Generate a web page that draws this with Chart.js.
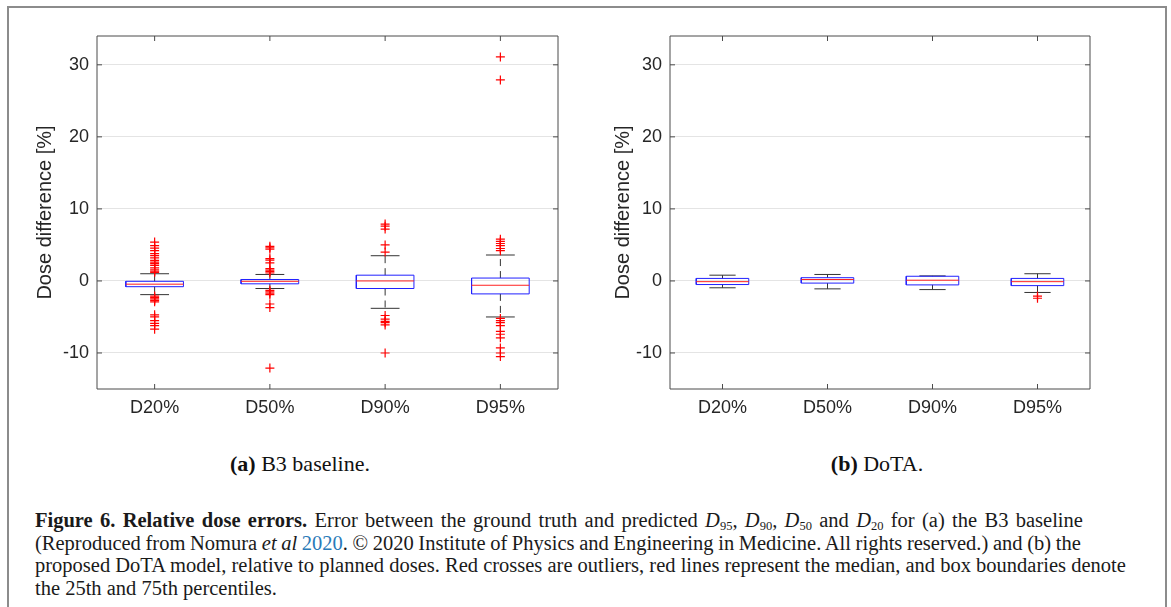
<!DOCTYPE html>
<html>
<head>
<meta charset="utf-8">
<script src="https://cdn.jsdelivr.net/npm/chart.js@4.4.1/dist/chart.umd.min.js"></script>
<style>
  html, body { margin: 0; padding: 0; background: #fff; }
  body { width: 1171px; height: 607px; position: relative; overflow: hidden; }
  #frame { position: absolute; left: 7px; top: 6px; width: 1156px; height: 700px; border: 2px solid #8c8c8c; }
  canvas { position: absolute; top: 0; }
  #leftPlot { left: 0; }
  #rightPlot { left: 585px; }
  .sub { position: absolute; top: 451px; font-family: "Liberation Serif", serif; font-size: 22px; color: #111;
         white-space: nowrap; transform: translateX(-50%); }
  #caption { position: absolute; left: 35px; top: 509px; font-family: "Liberation Serif", serif; font-size: 20.5px;
             line-height: 22.5px; color: #1a1a1a; white-space: nowrap; }
  #caption a { color: #2a7ab8; text-decoration: none; }
  #caption sub { font-size: 12.5px; vertical-align: -3px; line-height: 0; }
  #line1 { word-spacing: 2.2px; }
  #line2 { word-spacing: -0.5px; }
</style>
</head>
<body>
<div id="frame"></div>
<canvas id="leftPlot" width="585" height="440"></canvas>
<canvas id="rightPlot" width="586" height="440"></canvas>
<div class="sub" style="left:300px"><b>(a)</b> B3 baseline.</div>
<div class="sub" style="left:877px"><b>(b)</b> DoTA.</div>
<div id="caption">
<span id="line1"><b>Figure 6. Relative dose errors.</b> Error between the ground truth and predicted <i>D</i><sub>95</sub>, <i>D</i><sub>90</sub>, <i>D</i><sub>50</sub> and <i>D</i><sub>20</sub> for (a) the B3 baseline</span><br>
<span id="line2">(Reproduced from Nomura <i>et al</i> <a>2020</a>. &copy; 2020 Institute of Physics and Engineering in Medicine. All rights reserved.) and (b) the</span><br>
proposed DoTA model, relative to planned doses. Red crosses are outliers, red lines represent the median, and box boundaries denote<br>
the 25th and 75th percentiles.
</div>
<script>
let categories = ['D20%', 'D50%', 'D90%', 'D95%'];
let yTicks = [-10, 0, 10, 20, 30];

// (a) B3 baseline
let baseQ1 = [-0.8, -0.4, -1.05, -1.8];
let baseMedian = [-0.45, -0.05, 0.0, -0.6];
let baseQ3 = [-0.05, 0.2, 0.8, 0.4];
let baseLow = [-1.9, -1.05, -3.8, -5.0];
let baseHigh = [1.0, 0.9, 3.5, 3.6];
let baseOutliers = [
    [5.4, 4.9, 4.55, 4.2, 3.8, 3.5, 3.2, 2.85, 2.6, 2.4, 2.15, 1.8, 1.55, 1.35, 1.2,
     -2.1, -2.3, -2.5, -2.7, -2.9, -4.7, -5.0, -5.5, -5.9, -6.2, -6.7],
    [4.8, 4.6, 4.4, 3.1, 2.9, 2.5, 1.7, 1.5, 1.3, 1.1, -1.3, -1.5, -1.7, -1.9, -3.2, -3.7, -12.1],
    [7.9, 7.6, 7.2, 5.0, 4.0, -4.8, -5.3, -5.6, -5.8, -6.1, -10.0],
    [31.1, 27.9, 5.8, 5.5, 5.2, 4.9, 4.5, 4.2, -5.2, -5.5, -5.8, -6.2, -7.0, -7.4, -7.9, -9.3, -10.0, -10.5]
];

// (b) DoTA
let dotaQ1 = [-0.5, -0.3, -0.55, -0.65];
let dotaMedian = [-0.1, 0.2, 0.1, -0.1];
let dotaQ3 = [0.35, 0.45, 0.65, 0.35];
let dotaLow = [-0.95, -1.1, -1.2, -1.6];
let dotaHigh = [0.8, 0.9, 0.7, 1.0];
let dotaOutliers = [[], [], [], [-2.1, -2.4]];

const BOX_HALF = 0.25;
const CAP_HALF = 0.125;

// draws the axes box with inward ticks, MATLAB style
const axesBox = {
    id: 'axesBox',
    afterDraw(chart) {
        let ctx = chart.ctx;
        let a = chart.chartArea;
        let x = chart.scales.x;
        let y = chart.scales.y;
        ctx.save();
        ctx.strokeStyle = '#4a4a4a';
        ctx.lineWidth = 1;
        ctx.beginPath();
        ctx.rect(a.left, a.top, a.right - a.left, a.bottom - a.top);
        x.ticks.forEach(t => {
            let px = x.getPixelForValue(t.value);
            ctx.moveTo(px, a.bottom); ctx.lineTo(px, a.bottom - 5);
            ctx.moveTo(px, a.top); ctx.lineTo(px, a.top + 5);
        });
        y.ticks.forEach(t => {
            let py = y.getPixelForValue(t.value);
            ctx.moveTo(a.left, py); ctx.lineTo(a.left + 5, py);
            ctx.moveTo(a.right, py); ctx.lineTo(a.right - 5, py);
        });
        ctx.stroke();
        ctx.restore();
    }
};

function boxDatasets(q1, med, q3, lo, hi, outliers) {
    let box = [], medians = [], whiskers = [], caps = [], points = [];
    categories.forEach((c, i) => {
        let x = i + 1;
        box.push({x: x - BOX_HALF, y: q1[i]}, {x: x + BOX_HALF, y: q1[i]}, {x: x + BOX_HALF, y: q3[i]},
                 {x: x - BOX_HALF, y: q3[i]}, {x: x - BOX_HALF, y: q1[i]}, {x: x, y: null});
        medians.push({x: x - BOX_HALF, y: med[i]}, {x: x + BOX_HALF, y: med[i]}, {x: x, y: null});
        whiskers.push({x: x, y: q3[i]}, {x: x, y: hi[i]}, {x: x, y: null},
                      {x: x, y: q1[i]}, {x: x, y: lo[i]}, {x: x, y: null});
        caps.push({x: x - CAP_HALF, y: hi[i]}, {x: x + CAP_HALF, y: hi[i]}, {x: x, y: null},
                  {x: x - CAP_HALF, y: lo[i]}, {x: x + CAP_HALF, y: lo[i]}, {x: x, y: null});
        outliers[i].forEach(v => points.push({x: x, y: v}));
    });
    let lineStyle = {showLine: true, pointRadius: 0, pointHoverRadius: 0, borderWidth: 1, spanGaps: false};
    return [
        {label: 'outliers', data: points, pointStyle: 'cross', pointRadius: 4.5, borderColor: '#ff0000',
         backgroundColor: '#ff0000', borderWidth: 1.2},
        Object.assign({label: 'median', data: medians, borderColor: '#ff2020'}, lineStyle),
        Object.assign({label: 'box', data: box, borderColor: '#2020ff'}, lineStyle),
        Object.assign({label: 'caps', data: caps, borderColor: '#333333'}, lineStyle),
        Object.assign({label: 'whiskers', data: whiskers, borderColor: '#333333', borderDash: [7, 5]}, lineStyle)
    ];
}

function makeChart(id, datasets, geom) {
    let tickFont = {family: 'Liberation Sans', size: 18};
    return new Chart(document.getElementById(id).getContext('2d'), {
        type: 'scatter',
        data: {datasets: datasets},
        plugins: [axesBox],
        options: {
            responsive: false,
            animation: false,
            events: [],
            layout: {padding: {left: 0, top: geom.top, right: geom.right, bottom: 0}},
            plugins: {legend: {display: false}, tooltip: {enabled: false}},
            scales: {
                x: {
                    type: 'linear', min: 0.5, max: 4.5,
                    afterBuildTicks: s => { s.ticks = categories.map((c, i) => ({value: i + 1})); },
                    afterFit: s => { s.height = geom.xHeight; },
                    ticks: {callback: v => categories[v - 1], font: tickFont, color: '#262626', padding: 8, maxRotation: 0},
                    grid: {display: false, drawTicks: false},
                    border: {display: false}
                },
                y: {
                    min: -15, max: 34,
                    afterBuildTicks: s => { s.ticks = yTicks.map(v => ({value: v})); },
                    afterFit: s => { s.width = geom.yWidth; },
                    ticks: {font: tickFont, color: '#262626', padding: 8},
                    grid: {color: '#e4e4e4', lineWidth: 1, drawTicks: false},
                    border: {display: false},
                    title: {display: true, text: 'Dose difference [%]', color: '#262626',
                            font: {family: 'Liberation Sans', size: 20, lineHeight: 1.2},
                            padding: {top: geom.titlePad, bottom: 0}}
                }
            }
        }
    });
}

document.addEventListener('DOMContentLoaded', function () {
    makeChart('leftPlot', boxDatasets(baseQ1, baseMedian, baseQ3, baseLow, baseHigh, baseOutliers),
              {top: 36, right: 27, xHeight: 51, yWidth: 97, titlePad: 33});
    makeChart('rightPlot', boxDatasets(dotaQ1, dotaMedian, dotaQ3, dotaLow, dotaHigh, dotaOutliers),
              {top: 36, right: 81, xHeight: 51, yWidth: 85, titlePad: 26});
});
</script>
</body>
</html>
